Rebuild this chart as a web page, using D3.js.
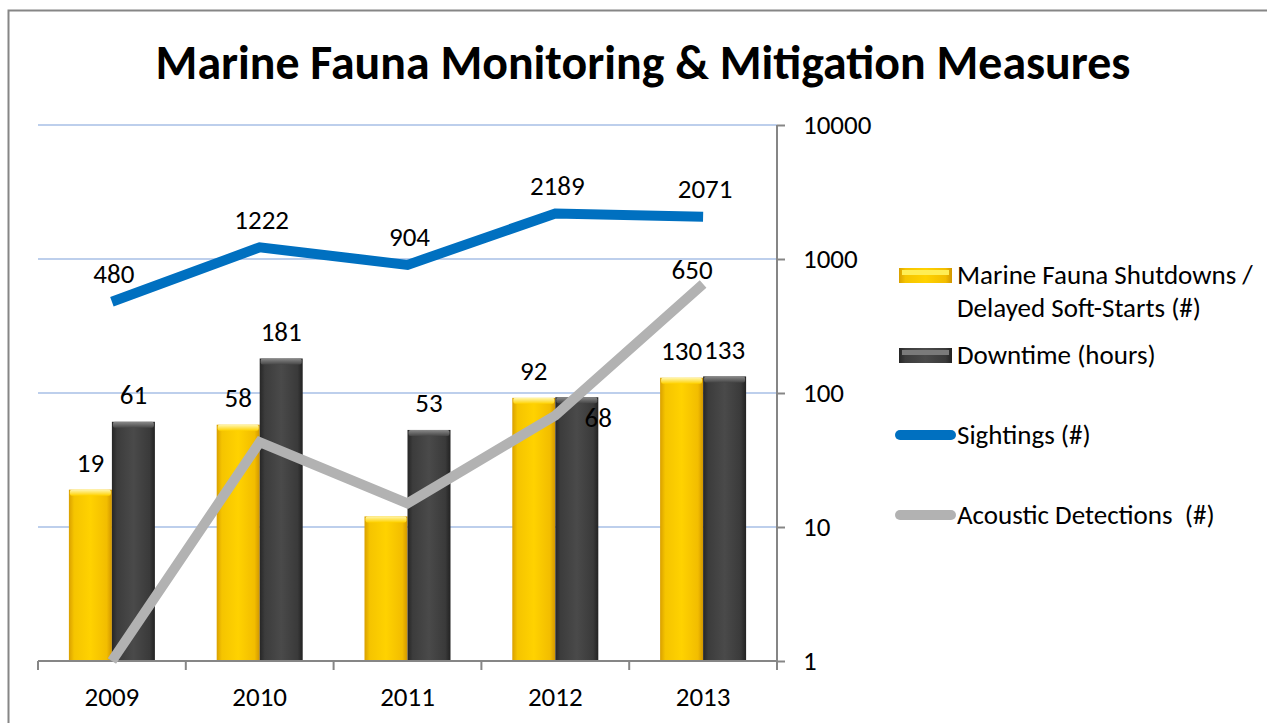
<!DOCTYPE html>
<html lang="en">
<head>
<meta charset="UTF-8">
<script src="https://d3js.org/d3.v7.min.js"></script>
<style>
    body {margin: 0; background: #ffffff}
    svg {display: block}
    text {font-family: Carlito, Calibri, Lato, sans-serif; fill: #000; white-space: pre}
</style>
</head>
<body>
<svg id="chart" width="1267" height="723"></svg>
<script>
    // chart data
    const years = ['2009', '2010', '2011', '2012', '2013'];
    const shutdowns = [19, 58, 12, 92, 130];
    const shutdownLabels = ['19', '58', null, '92', '130'];
    const downtime = [61, 181, 53, 93, 133];
    const downtimeLabels = ['61', '181', '53', null, '133'];
    const sightings = [480, 1222, 904, 2189, 2071];
    const sightingLabels = ['480', '1222', '904', '2189', '2071'];
    const acoustic = [1, 43, 15, 68, 650];
    const acousticLabels = [null, null, null, '68', '650'];
    const yTicks = [1, 10, 100, 1000, 10000];
    const seriesNames = ['Marine Fauna Shutdowns /\nDelayed Soft-Starts (#)', 'Downtime (hours)', 'Sightings (#)', 'Acoustic Detections  (#)'];

    const svg = d3.select('#chart');
    const pLeft = 38, pRight = 777, pTop = 125, pBottom = 661;
    const fs = 27;

    // outer border
    svg.append('rect').attr('x', 8.5).attr('y', 10.5).attr('width', 1300).attr('height', 800)
        .attr('fill', 'none').attr('stroke', '#868686').attr('stroke-width', 2);

    // gradients
    const defs = svg.append('defs');
    function grad(id, stops, vertical) {
        let g = defs.append('linearGradient').attr('id', id)
            .attr('x1', 0).attr('y1', 0).attr('x2', vertical ? 0 : 1).attr('y2', vertical ? 1 : 0);
        stops.forEach(s => g.append('stop').attr('offset', s[0]).attr('stop-color', s[1]));
    }
    grad('yel', [[0, '#d9a000'], [0.12, '#f5c400'], [0.5, '#ffd200'], [0.88, '#f2bd00'], [1, '#d19600']]);
    grad('yelTop', [[0, '#fff6b0'], [1, '#ffd200']], true);
    grad('drk', [[0, '#262626'], [0.12, '#3c3c3c'], [0.5, '#4a4a4a'], [0.88, '#3a3a3a'], [1, '#222222']]);
    grad('drkTop', [[0, '#8a8a8a'], [1, '#474747']], true);

    const x = d3.scaleBand().domain(years).range([pLeft, pRight]).paddingInner(0).paddingOuter(0);
    const y = d3.scaleLog().domain([1, 10000]).range([pBottom, pTop]);
    const barW = 43;

    // gridlines
    svg.append('g').selectAll('line').data(yTicks.slice(1)).join('line')
        .attr('x1', pLeft).attr('x2', pRight)
        .attr('y1', d => y(d)).attr('y2', d => y(d))
        .attr('stroke', '#a7bfe6').attr('stroke-width', 1.5);

    // bars
    function drawBars(values, offset, fill, topFill) {
        const g = svg.append('g');
        values.forEach((v, i) => {
            const bx = x(years[i]) + x.bandwidth() / 2 + offset;
            const by = y(v);
            g.append('rect').attr('x', bx).attr('y', by).attr('width', barW).attr('height', pBottom - by)
                .attr('fill', `url(#${fill})`);
            g.append('rect').attr('x', bx + 1).attr('y', by).attr('width', barW - 2).attr('height', 6)
                .attr('fill', `url(#${topFill})`).attr('rx', 2);
        });
    }
    drawBars(shutdowns, -barW, 'yel', 'yelTop');
    drawBars(downtime, 0, 'drk', 'drkTop');

    // axes
    const yAxis = d3.axisRight(y).tickValues(yTicks).tickFormat(d3.format('d')).tickSize(8).tickPadding(18);
    const ya = svg.append('g').attr('transform', `translate(${pRight},0)`).call(yAxis);
    ya.select('.domain').attr('stroke', '#868686').attr('stroke-width', 2).attr('d', `M0,${pTop}V${pBottom + 9}`);
    ya.selectAll('.tick line').attr('stroke', '#868686').attr('stroke-width', 2);
    ya.selectAll('.tick text').attr('font-size', fs).attr('font-family', 'Carlito, Calibri, Lato, sans-serif').attr('fill', '#000');

    const xa = svg.append('g');
    xa.append('line').attr('x1', pLeft).attr('x2', pRight).attr('y1', pBottom).attr('y2', pBottom)
        .attr('stroke', '#868686').attr('stroke-width', 2);
    xa.selectAll('line.tk').data(years.concat(['end'])).join('line').attr('class', 'tk')
        .attr('x1', (d, i) => pLeft + i * x.bandwidth()).attr('x2', (d, i) => pLeft + i * x.bandwidth())
        .attr('y1', pBottom).attr('y2', pBottom + 9)
        .attr('stroke', '#868686').attr('stroke-width', 2);
    xa.selectAll('text').data(years).join('text')
        .attr('x', d => x(d) + x.bandwidth() / 2).attr('y', 697).attr('dy', '0.35em')
        .attr('text-anchor', 'middle').attr('font-size', fs).text(d => d);

    // lines
    const cx = i => x(years[i]) + x.bandwidth() / 2;
    const line = d3.line().x((d, i) => cx(i)).y(d => y(d));
    svg.append('path').datum(acoustic).attr('d', line).attr('fill', 'none')
        .attr('stroke', '#b2b2b2').attr('stroke-width', 10).attr('stroke-linejoin', 'miter');
    svg.append('path').datum(sightings).attr('d', line).attr('fill', 'none')
        .attr('stroke', '#0070c0').attr('stroke-width', 10).attr('stroke-linejoin', 'miter');

    // data labels
    const lbl = svg.append('g');
    function labels(values, texts, dx, dy) {
        values.forEach((v, i) => {
            if (!texts[i]) return;
            lbl.append('text').attr('x', cx(i) + dx).attr('y', y(v) + dy).attr('dy', '0.35em')
                .attr('text-anchor', 'middle').attr('font-size', fs).text(texts[i]);
        });
    }
    labels(shutdowns, shutdownLabels, -barW / 2, -27);
    labels(downtime, downtimeLabels, barW / 2, -27);
    labels(sightings, sightingLabels, 2, -28);
    // acoustic labels sit beside their points
    lbl.append('text').attr('x', cx(3) + 43).attr('y', y(acoustic[3]) + 2).attr('dy', '0.35em')
        .attr('text-anchor', 'middle').attr('font-size', fs).text(acousticLabels[3]);
    lbl.append('text').attr('x', cx(4) - 11).attr('y', y(acoustic[4]) - 15).attr('dy', '0.35em')
        .attr('text-anchor', 'middle').attr('font-size', fs).text(acousticLabels[4]);

    // legend
    const lg = svg.append('g');
    const legY = [275, 355, 435, 515];
    lg.append('rect').attr('x', 899).attr('y', legY[0] - 7).attr('width', 53).attr('height', 15).attr('fill', 'url(#yel)');
    lg.append('rect').attr('x', 902).attr('y', legY[0] - 5).attr('width', 47).attr('height', 5).attr('fill', '#ffee55');
    lg.append('rect').attr('x', 899).attr('y', legY[1] - 7).attr('width', 53).attr('height', 15).attr('fill', 'url(#drk)');
    lg.append('rect').attr('x', 902).attr('y', legY[1] - 5).attr('width', 47).attr('height', 5).attr('fill', '#7a7a7a');
    lg.append('line').attr('x1', 900).attr('x2', 951).attr('y1', legY[2]).attr('y2', legY[2])
        .attr('stroke', '#0070c0').attr('stroke-width', 10).attr('stroke-linecap', 'round');
    lg.append('line').attr('x1', 900).attr('x2', 951).attr('y1', legY[3]).attr('y2', legY[3])
        .attr('stroke', '#b2b2b2').attr('stroke-width', 10).attr('stroke-linecap', 'round');
    seriesNames.forEach((name, i) => {
        const t = lg.append('text').attr('x', 957).attr('y', legY[i]).attr('font-size', fs);
        name.split('\n').forEach((part, j) => {
            t.append('tspan').attr('x', 957).attr('dy', j === 0 ? '0.35em' : 33).text(part);
        });
    });

    // title
    const title = svg.append('text').attr('x', 643).attr('y', 62).attr('dy', '0.35em')
        .attr('text-anchor', 'middle').attr('font-weight', 'bold').attr('font-size', 42)
        .text('Marine Fauna Monitoring & Mitigation Measures');
    const tw = title.node().getComputedTextLength();
    title.attr('font-size', 42 * 975 / tw);
</script>
</body>
</html>
